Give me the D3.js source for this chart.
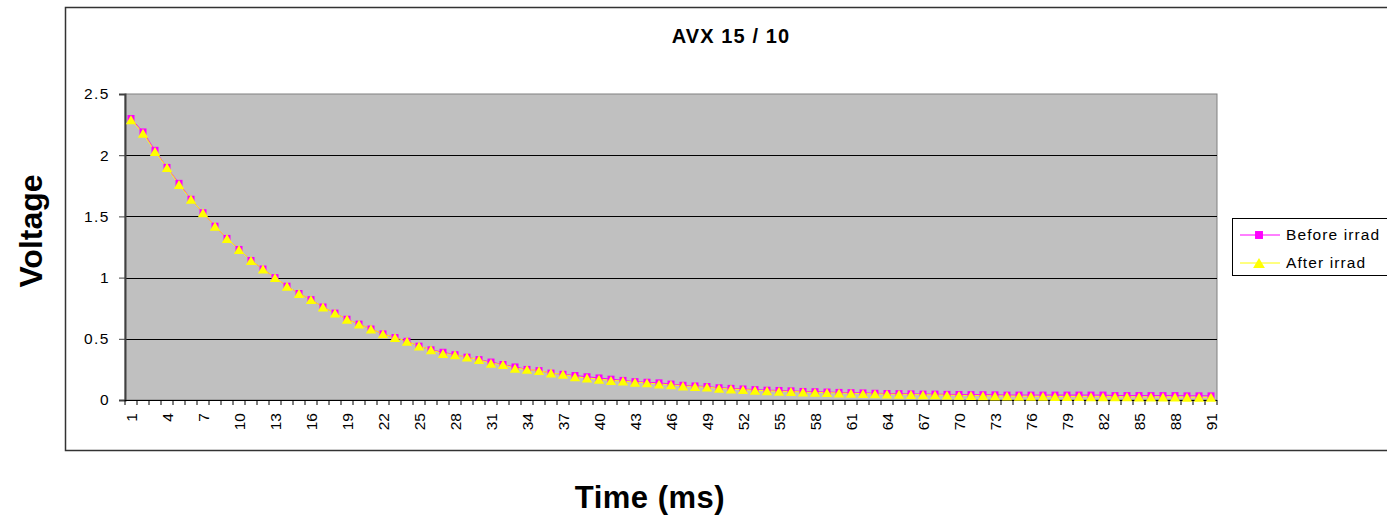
<!DOCTYPE html>
<html><head><meta charset="utf-8">
<script src="https://cdn.jsdelivr.net/npm/d3@7"></script>
<style>body{margin:0;background:#fff;}svg{display:block;font-family:"Liberation Sans",Arial,sans-serif;}</style>
</head><body>
<svg id="c" width="1387" height="518"></svg>
<script>
const categories = d3.range(1, 92);
const seriesNames = ["Before irrad", "After irrad"];
const beforeIrrad = [2.30,2.19,2.04,1.90,1.77,1.64,1.53,1.42,1.32,1.23,1.14,1.07,1.00,0.93,0.87,0.82,0.76,0.71,0.66,0.62,0.58,0.54,0.51,0.48,0.44,0.41,0.39,0.37,0.35,0.33,0.31,0.29,0.27,0.25,0.24,0.22,0.21,0.20,0.19,0.18,0.17,0.16,0.15,0.145,0.14,0.13,0.12,0.115,0.11,0.10,0.095,0.09,0.085,0.08,0.078,0.075,0.07,0.068,0.065,0.062,0.06,0.058,0.055,0.053,0.052,0.05,0.048,0.048,0.046,0.045,0.044,0.043,0.042,0.04,0.04,0.04,0.04,0.04,0.04,0.04,0.04,0.04,0.036,0.036,0.036,0.036,0.036,0.036,0.034,0.034,0.034];
const afterIrrad = [2.29,2.18,2.03,1.90,1.76,1.64,1.53,1.42,1.32,1.23,1.14,1.07,1.00,0.93,0.87,0.82,0.76,0.71,0.66,0.62,0.58,0.54,0.51,0.48,0.44,0.41,0.38,0.37,0.35,0.33,0.30,0.29,0.26,0.25,0.24,0.22,0.21,0.19,0.18,0.17,0.16,0.155,0.145,0.14,0.13,0.125,0.115,0.11,0.105,0.095,0.09,0.085,0.08,0.075,0.072,0.07,0.065,0.062,0.06,0.057,0.055,0.052,0.05,0.048,0.047,0.045,0.043,0.042,0.04,0.038,0.037,0.035,0.033,0.032,0.031,0.03,0.03,0.029,0.028,0.028,0.027,0.027,0.026,0.026,0.025,0.025,0.024,0.024,0.023,0.023,0.022];
const yTicks = [0, 0.5, 1, 1.5, 2, 2.5];
const xLabels = categories.filter((d, i) => i % 3 === 0);

const svg = d3.select("#c");
const L = 125, R = 1217, T = 94, B = 400;

// triangle centred on its bounding box (spreadsheet-style marker)
const triBox = { draw(ctx, size) { const w = Math.sqrt(size * 4 / Math.sqrt(3)); const h = w * Math.sqrt(3) / 2;
  ctx.moveTo(0, -h / 2); ctx.lineTo(w / 2, h / 2); ctx.lineTo(-w / 2, h / 2); ctx.closePath(); } };

// outer chart border
svg.append("rect").attr("x", 65.5).attr("y", 7.5).attr("width", 1400).attr("height", 443)
  .attr("fill", "#fff").attr("stroke", "#333").attr("stroke-width", 1.5);

const x = d3.scaleBand().domain(categories).range([L, R]);
const y = d3.scaleLinear().domain([0, 2.5]).range([B, T]);

// plot area
svg.append("rect").attr("x", L).attr("y", T).attr("width", R - L).attr("height", B - T)
  .attr("fill", "#C0C0C0").attr("stroke", "#808080").attr("stroke-width", 1);

// gridlines
svg.append("g").selectAll("line").data(yTicks.filter(d => d > 0 && d < 2.5)).join("line")
  .attr("x1", L).attr("x2", R).attr("y1", d => Math.round(y(d)) + 0.5).attr("y2", d => Math.round(y(d)) + 0.5)
  .attr("stroke", "#000").attr("stroke-width", 1);

// y axis
const yAxis = d3.axisLeft(y).tickValues(yTicks).tickSize(6).tickFormat(d3.format("~g"));
const gy = svg.append("g").attr("transform", `translate(${L},0)`).call(yAxis);
gy.select(".domain").attr("stroke", "#404040").attr("stroke-width", 2);
gy.selectAll(".tick line").attr("stroke", "#404040");
gy.selectAll("text").attr("font-size", 15.5).attr("fill", "#000").attr("x", -15)
  .attr("letter-spacing", 1.5).attr("font-family", "Liberation Sans, Arial, sans-serif");

// x axis
const gx = svg.append("g").attr("transform", `translate(0,${B})`);
gx.append("line").attr("x1", L).attr("x2", R).attr("y1", 0.5).attr("y2", 0.5).attr("stroke", "#000");
gx.selectAll("line.t").data(categories.concat([null])).join("line").attr("class", "t")
  .attr("x1", (d, i) => L + i * x.bandwidth()).attr("x2", (d, i) => L + i * x.bandwidth())
  .attr("y1", 0).attr("y2", 5).attr("stroke", "#000");
gx.selectAll("text").data(xLabels).join("text")
  .attr("transform", d => `translate(${x(d) + x.bandwidth() / 2},13) rotate(-90)`)
  .attr("text-anchor", "end").attr("dy", "0.36em").attr("font-size", 15.5).text(d => d);

// series
const series = [
  { name: seriesNames[0], values: beforeIrrad, color: "#FF00FF", shape: d3.symbolSquare, size: 49 },
  { name: seriesNames[1], values: afterIrrad, color: "#FFFF00", shape: triBox, size: 46 }
];
const cx = d => x(d) + x.bandwidth() / 2;
series.forEach(s => {
  const line = d3.line().x((v, i) => cx(categories[i])).y(v => y(v));
  svg.append("path").attr("d", line(s.values)).attr("fill", "none").attr("stroke", s.color).attr("stroke-width", 1);
});
series.forEach(s => {
  svg.append("g").selectAll("path").data(s.values).join("path")
    .attr("transform", (v, i) => `translate(${cx(categories[i])},${y(v)})`)
    .attr("d", d3.symbol().type(s.shape).size(s.size)).attr("fill", s.color);
});

// title
svg.append("text").attr("x", 731).attr("y", 43).attr("text-anchor", "middle")
  .attr("font-size", 20).attr("letter-spacing", 1.1).attr("font-weight", "bold").text("AVX 15 / 10");

// axis titles
svg.append("text").attr("transform", "translate(42,231) rotate(-90)").attr("text-anchor", "middle")
  .attr("font-size", 32).attr("font-weight", "bold").text("Voltage");
svg.append("text").attr("x", 650).attr("y", 508).attr("text-anchor", "middle")
  .attr("font-size", 31).attr("letter-spacing", 0.5).attr("font-weight", "bold").text("Time (ms)");

// legend
const lg = svg.append("g");
lg.append("rect").attr("x", 1232.5).attr("y", 218.5).attr("width", 160).attr("height", 57)
  .attr("fill", "#fff").attr("stroke", "#000");
series.forEach((s, i) => {
  const yy = 235 + i * 28;
  lg.append("line").attr("x1", 1240).attr("x2", 1280).attr("y1", yy).attr("y2", yy).attr("stroke", s.color);
  lg.append("path").attr("transform", `translate(1259,${yy})`).attr("d", d3.symbol().type(s.shape).size(s.size + 14)).attr("fill", s.color);
  lg.append("text").attr("x", 1286).attr("y", yy).attr("dy", "0.35em").attr("font-size", 15.5)
    .attr("letter-spacing", 1.1).text(s.name);
});
</script>
</body></html>
